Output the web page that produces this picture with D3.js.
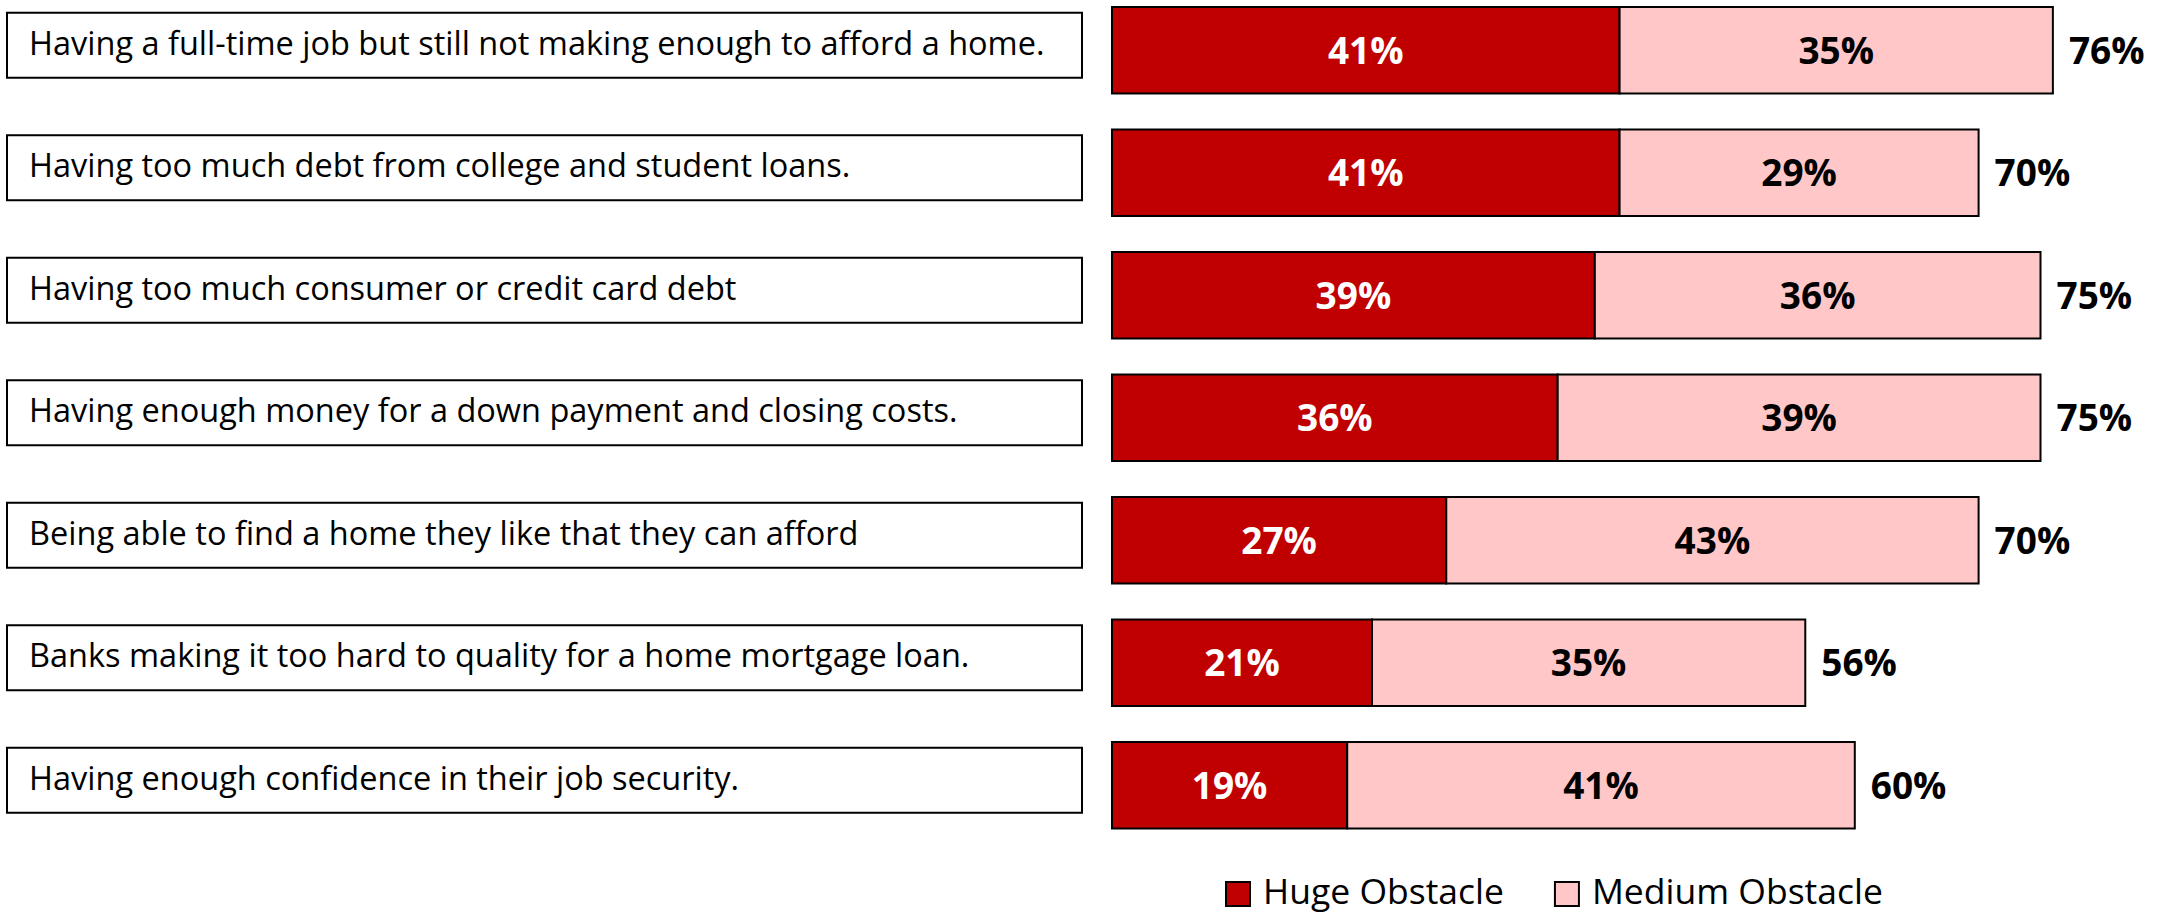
<!DOCTYPE html>
<html>
<head>
<meta charset="utf-8">
<script src="https://cdn.jsdelivr.net/npm/d3@7"></script>
<style>
  html, body { margin: 0; padding: 0; background: #ffffff; }
  svg { display: block; }
  text { font-family: "Open Sans", "Noto Sans", sans-serif; }
</style>
</head>
<body>
<svg id="chart" width="2157" height="916"></svg>
<script>
// Survey items (obstacles to buying a home)
const categories = [
  "Having a full-time job but still not making enough to afford a home.",
  "Having too much debt from college and student loans.",
  "Having too much consumer or credit card debt",
  "Having enough money for a down payment and closing costs.",
  "Being able to find a home they like that they can afford",
  "Banks making it too hard to quality for a home mortgage loan.",
  "Having enough confidence in their job security."
];
const hugeObstacle   = [41, 41, 39, 36, 27, 21, 19];
const mediumObstacle = [35, 29, 36, 39, 43, 35, 41];
const totals         = [76, 70, 75, 75, 70, 56, 60];
const seriesNames    = ["Huge Obstacle", "Medium Obstacle"];
const seriesColors   = ["#C00000", "#FFC7C7"];

const svg = d3.select("#chart");

const x = d3.scaleLinear().domain([0, 80]).range([1112, 2102.4]);
const y = d3.scaleBand().domain(categories).range([7, 828.5])
  .paddingInner(0.294).paddingOuter(0);

const rows = categories.map((c, i) => ({
  cat: c,
  segs: [
    { key: 0, x0: 0, x1: hugeObstacle[i], v: hugeObstacle[i] },
    { key: 1, x0: hugeObstacle[i], x1: hugeObstacle[i] + mediumObstacle[i], v: mediumObstacle[i] }
  ],
  total: totals[i]
}));

// Category label boxes on the left
const boxH = 65;
const labels = svg.append("g").selectAll("g").data(rows).join("g");
labels.append("rect")
  .attr("x", 7).attr("width", 1075)
  .attr("y", d => y(d.cat) + y.bandwidth() / 2 - 5 - boxH / 2)
  .attr("height", boxH)
  .attr("fill", "#fff").attr("stroke", "#000").attr("stroke-width", 2);
labels.append("text")
  .attr("x", 29)
  .attr("y", d => y(d.cat) + y.bandwidth() / 2 - 7)
  .attr("dy", "0.36em")
  .attr("font-size", 32.5)
  .attr("fill", "#000")
  .text(d => d.cat);

// Stacked bars
const bars = svg.append("g").selectAll("g").data(rows).join("g");
bars.selectAll("rect").data(d => d.segs.map(s => ({ ...s, cat: d.cat }))).join("rect")
  .attr("x", d => x(d.x0))
  .attr("width", d => x(d.x1) - x(d.x0))
  .attr("y", d => y(d.cat))
  .attr("height", y.bandwidth())
  .attr("fill", d => seriesColors[d.key])
  .attr("stroke", "#000").attr("stroke-width", 2);
bars.selectAll("text.seg").data(d => d.segs.map(s => ({ ...s, cat: d.cat }))).join("text")
  .attr("class", "seg")
  .attr("x", d => (x(d.x0) + x(d.x1)) / 2)
  .attr("y", d => y(d.cat) + y.bandwidth() / 2)
  .attr("dy", "0.36em")
  .attr("text-anchor", "middle")
  .attr("font-size", 37).attr("font-weight", 700)
  .attr("fill", d => d.key === 0 ? "#fff" : "#000")
  .text(d => d.v + "%");

// Totals at the end of each bar
bars.append("text")
  .attr("x", d => x(d.total) + 16)
  .attr("y", d => y(d.cat) + y.bandwidth() / 2)
  .attr("dy", "0.36em")
  .attr("font-size", 37).attr("font-weight", 700)
  .attr("fill", "#000")
  .text(d => d.total + "%");

// Legend
const legend = svg.append("g");
let lx = 1226;
seriesNames.forEach((name, i) => {
  legend.append("rect")
    .attr("x", lx).attr("y", 882).attr("width", 24).attr("height", 24)
    .attr("fill", seriesColors[i]).attr("stroke", "#000").attr("stroke-width", 2);
  const t = legend.append("text")
    .attr("x", lx + 37).attr("y", 904)
    .attr("font-size", 35.5).attr("fill", "#000")
    .text(name);
  lx += 37 + t.node().getComputedTextLength() + 51;
});
</script>
</body>
</html>
